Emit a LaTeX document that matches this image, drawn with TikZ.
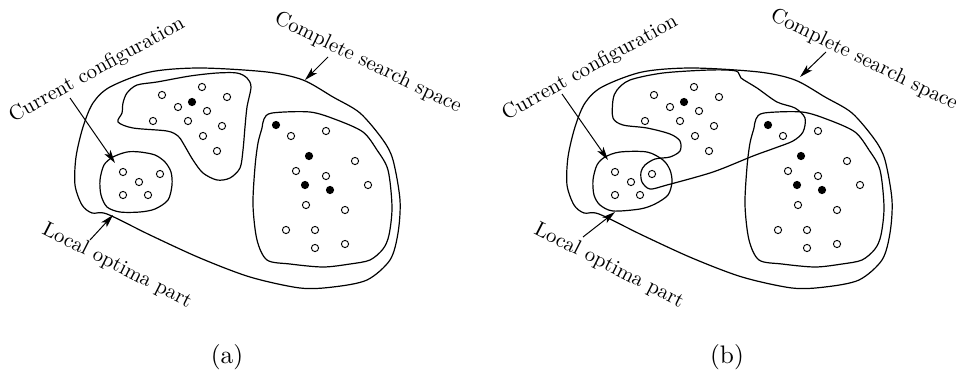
\documentclass[tikz,border=0pt]{standalone}
\usetikzlibrary{arrows.meta}
\font\lblfont="[lmroman10-regular]" at 15.6pt
\font\capfont="[lmroman10-regular]" at 19pt
\begin{document}
\begin{tikzpicture}[x=0.75pt,y=-0.75pt,
  blob/.style={line width=0.9pt,line join=round},
  odot/.style={circle,draw,fill=white,line width=0.7pt,inner sep=0pt,minimum size=5.4pt},
  fdot/.style={circle,draw,fill=black,line width=0.7pt,inner sep=0pt,minimum size=5.4pt},
  arr/.style={-{Stealth[length=10pt,width=5.5pt,inset=2.5pt]},line width=0.75pt},
  lbl/.style={font=\lblfont,inner sep=0pt},
  captext/.style={font=\capfont,inner sep=0pt}]
\useasboundingbox (0,0) rectangle (961,371);

% ---------- shared pieces for (a) and (b) ----------
\foreach \sh/\nm in {0/a,492/b}{
\begin{scope}[shift={(\sh,0)}]
  % outer search space
  \draw[blob] plot[smooth cycle] coordinates {(107,214) (150,235) (200,258) (250,277) (300,288) (333,287) (367,280) (390,260) (398,233) (400,200) (393,160) (383,140) (360,113) (333,97) (303,80) (267,72) (200,68) (150,72) (110,87) (93,103) (83,127) (76,157) (75,185) (82,205) (92,213)};
  % right region
  \draw[blob] plot[smooth cycle] coordinates {(264,119) (272,113) (310,112) (337,120) (363,132) (377,150) (388,170) (392,207) (389,235) (383,249) (370,260) (350,264) (323,267) (290,264) (267,260) (257,240) (253,205) (255,167) (258,143) (262,128)};
  % dots of the top region
  \foreach \p [count=\i] in {(162,95),(202,87),(227,97),(178,107),(207,111),(153,121),(188,121),(222,126),(203,136),(217,151)}
    \node[odot] (t\nm\i) at \p {};
  \node[fdot] (tf\nm) at (192,102) {};
  % dots of the local region
  \foreach \p [count=\i] in {(123,172),(160,174),(139,182),(123,195),(148,195)}
    \node[odot] (l\nm\i) at \p {};
  % dots of the right region
  \foreach \p [count=\i] in {(291,136),(326,131),(355,161),(296,171),(326,176),(368,185),(306,205),(345,210),(286,230),(315,230),(315,248),(345,244)}
    \node[odot] (r\nm\i) at \p {};
  \foreach \p [count=\i] in {(276,125),(309,156),(305,185),(330,190)}
    \node[fdot] (rf\nm\i) at \p {};
\end{scope}
}

% ---------- (a) ----------
\draw[blob] plot[smooth cycle] coordinates {(118,122) (122,113) (123,103) (127,93) (137,85) (157,82) (190,76) (217,73) (237,73) (247,78) (251,87) (247,107) (245,127) (243,150) (240,168) (230,178) (217,180) (203,173) (193,160) (183,143) (178,136) (167,131) (133,128)};
\draw[blob] plot[smooth cycle] coordinates {(100,180) (104,165) (113,157) (127,152) (140,152) (155,155) (165,162) (171,172) (172,185) (168,200) (155,209) (140,212) (120,212) (107,207) (101,195)};

\node[lbl,rotate=29] (cca) at (97,70) {Current configuration};
\node[lbl,rotate=-26] (csa) at (368,63) {Complete search space};
\node[lbl,rotate=-27] (lpa) at (117,266) {Local optima part};
\coordinate (cca1) at (70,98);  \coordinate (cca2) at (115,163);
\coordinate (csa1) at (328,57); \coordinate (csa2) at (305,80);
\coordinate (lpa1) at (90,240); \coordinate (lpa2) at (113,215);
\draw[arr] (cca1) -- (cca2);
\draw[arr] (csa1) -- (csa2);
\draw[arr] (lpa1) -- (lpa2);
\node[captext] (capa) at (227,357) {(a)};

% ---------- (b) ----------
\draw[blob] plot[smooth cycle] coordinates {(613,100) (617,90) (630,80) (663,73) (710,70) (736,71) (741,78) (757,88) (777,102) (795,108) (805,118) (803,132) (793,141) (775,148) (753,156) (713,172) (667,185) (650,189) (642,182) (641,172) (645,165) (655,159) (670,157) (680,151) (680,141) (670,134) (647,128) (623,125) (613,118)};
\draw[blob] plot[smooth cycle] coordinates {(593,180) (597,165) (605,157) (620,152) (647,152) (663,160) (670,170) (672,182) (668,195) (655,204) (640,209) (613,211) (600,205) (594,195)};

\node[lbl,rotate=29] (ccb) at (590,68) {Current configuration};
\node[lbl,rotate=-26] (csb) at (864,60) {Complete search space};
\node[lbl,rotate=-27] (lpb) at (609,266) {Local optima part};
\coordinate (ccb1) at (562,94);  \coordinate (ccb2) at (608,160);
\coordinate (csb1) at (826,52); \coordinate (csb2) at (800,77);
\coordinate (lpb1) at (583,237); \coordinate (lpb2) at (615,212);
\draw[arr] (ccb1) -- (ccb2);
\draw[arr] (csb1) -- (csb2);
\draw[arr] (lpb1) -- (lpb2);
\node[captext] (capb) at (727,357) {(b)};
\end{tikzpicture}
\end{document}
